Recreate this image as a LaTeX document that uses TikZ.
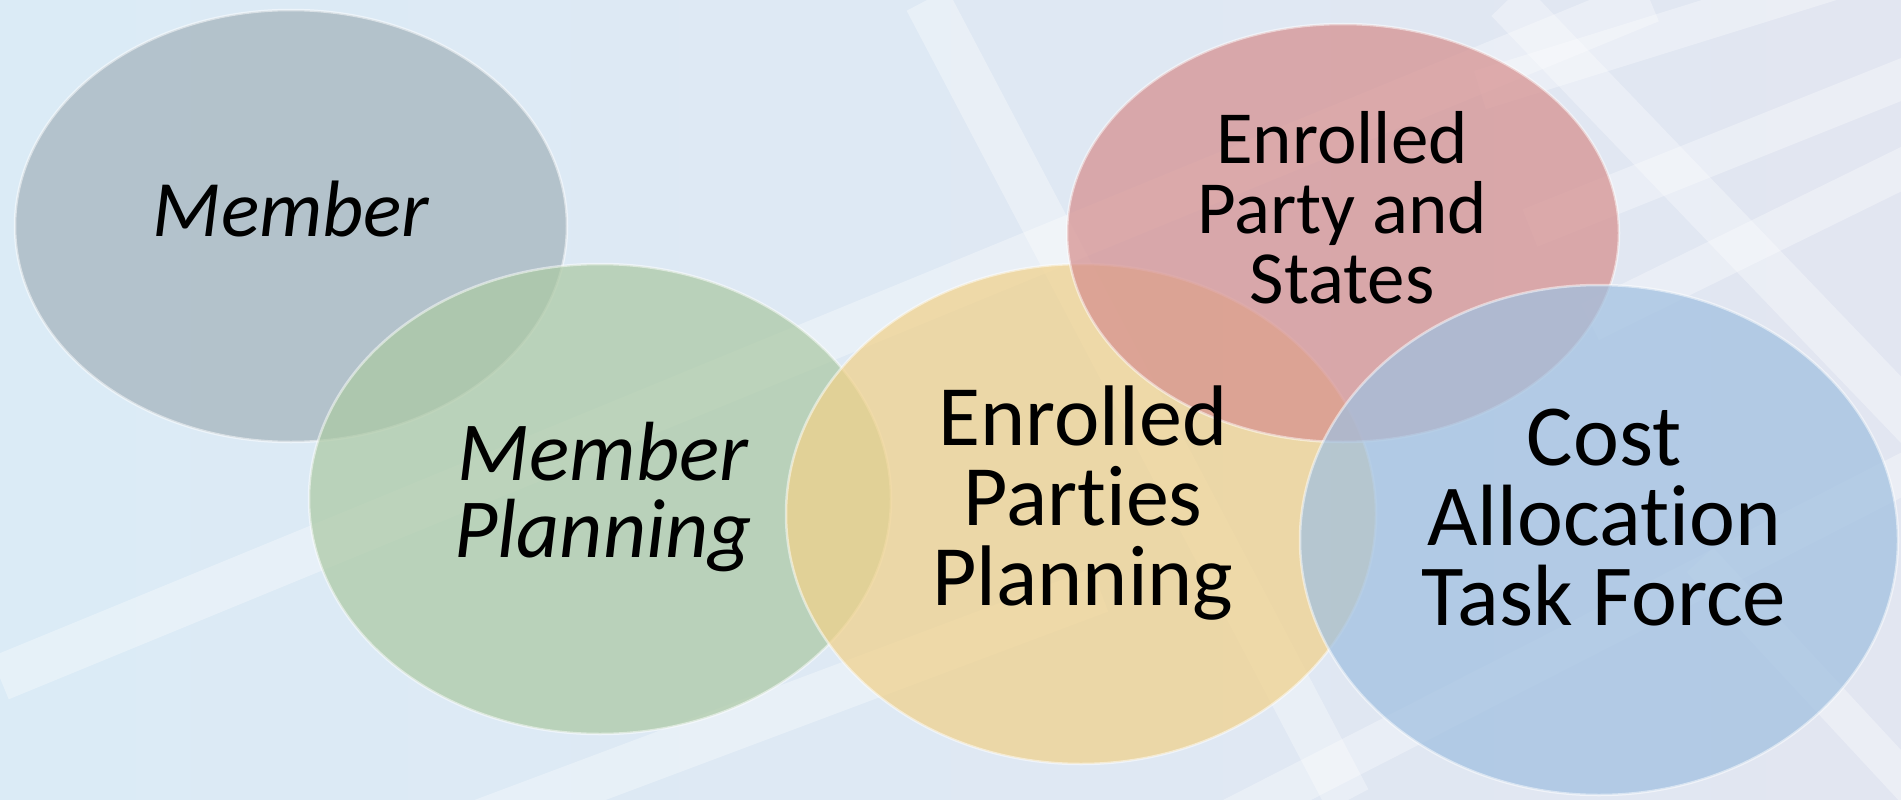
\documentclass[tikz,border=0pt]{standalone}
\usepackage{fontspec}
\setmainfont{Carlito}[Ligatures=NoCommon]
\usetikzlibrary{shapes.geometric}
\definecolor{bgL}{RGB}{219,235,246}
\definecolor{bgR}{RGB}{226,230,241}
\definecolor{cGrey}{RGB}{164,179,188}
\definecolor{cGreen}{RGB}{172,201,164}
\definecolor{cYellow}{RGB}{241,209,138}
\definecolor{cRed}{RGB}{214,143,142}
\definecolor{cBlue}{RGB}{160,192,224}
\tikzset{
  band/.style={draw=white, draw opacity=0.32, line width=46pt},
  disc/.style={ellipse, inner sep=0pt, fill opacity=0.72, draw=white, draw opacity=0.5, line width=2.5pt},
  lbl/.style={align=center, inner sep=0pt, text=black}
}
\begin{document}
\begin{tikzpicture}[x=1pt,y=-1pt]
\useasboundingbox (0,0) rectangle (1901,800);
\shade[left color=bgL, right color=bgR] (0,0) rectangle (1901,800);
\begin{scope}
\clip (0,0) rectangle (1901,800);
\draw[band] (0,678) -- (1650,0);
\draw[band] (300,890) -- (1100,590);
\draw[band] (927,0) -- (1348,800);
\draw[band] (1508,0) -- (1930,440);
\draw[band, line width=40pt] (1480,90) -- (1930,-50);
\draw[band, line width=40pt] (1530,228) -- (1930,68);
\draw[band, line width=40pt] (1590,322) -- (1930,155);
\draw[band, line width=40pt] (1150,860) -- (1950,450);
\draw[band, line width=36pt] (1700,560) -- (1960,840);
\end{scope}
\node[disc, fill=cGrey,   minimum width=552pt, minimum height=432pt] (gr) at (291,226) {};
\node[disc, fill=cGreen,  minimum width=582pt, minimum height=470pt] (gn) at (600,499) {};
\node[disc, fill=cYellow, minimum width=590pt, minimum height=500pt] (ye) at (1081,514) {};
\node[disc, fill=cRed,    minimum width=552pt, minimum height=418pt] (rd) at (1343,233) {};
\node[disc, fill=cBlue,   minimum width=598pt, minimum height=510pt] (bl) at (1599,540) {};
\node[lbl, font=\itshape\fontsize{80}{80}\selectfont] (tgr) at (291,209) {Member};
\node[lbl, font=\itshape\fontsize{84}{77}\selectfont] (tgn) at (603,497) {Member\\Planning};
\node[lbl, font=\fontsize{86}{80}\selectfont] (tye) at (1083,503) {Enrolled\\Parties\\Planning};
\node[lbl, font=\fontsize{75}{70}\selectfont] (trd) at (1342,208) {Enrolled\\Party and\\States};
\node[lbl, font=\fontsize{87}{80}\selectfont] (tbl) at (1604,518) {Cost\\Allocation\\Task Force};
\end{tikzpicture}
\end{document}
